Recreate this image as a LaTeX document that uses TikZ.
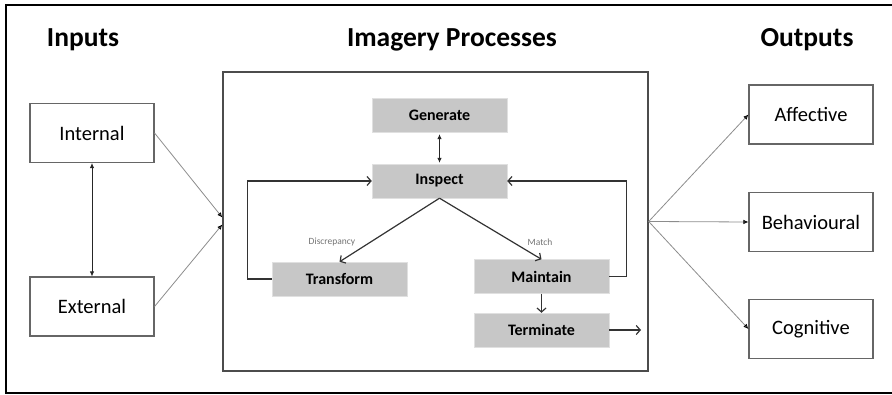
\documentclass[tikz,border=0pt]{standalone}
\usepackage{fontspec}
\setmainfont{Carlito}
\usetikzlibrary{arrows.meta}

\begin{document}
\begin{tikzpicture}
		[x=1pt,y=-1pt,
		title/.style ={font=\bfseries\fontsize{27.5}{30}\selectfont},
		io/.style ={rectangle, draw=black!60, line width=1.1pt, minimum width=124pt, minimum height=59pt, inner sep=0pt, font=\fontsize{20.5}{24}\selectfont},
		block/.style ={rectangle, fill=black!22, draw=black!12, minimum width=135pt, minimum height=34pt, inner sep=0pt, font=\bfseries\fontsize{16}{19}\selectfont},
		stage/.style ={rectangle, draw=black!70, line width=1.4pt, minimum width=425pt, minimum height=299pt, inner sep=0pt},
		note/.style ={text=black!55, font=\fontsize{9.5}{11}\selectfont},
		line/.style ={color=black!80, line width=1.2pt, -{Straight Barb[length=4pt,width=9pt]}},
		feed/.style ={color=black!45, line width=0.8pt, -{Latex[length=5pt,width=4.5pt,color=black]}},
		twoway/.style ={color=black!85, line width=0.8pt, {Latex[length=5pt,width=4.5pt]}-{Latex[length=5pt,width=4.5pt]}},
		]

		\useasboundingbox (0,0) rectangle (892,395);
		\draw[line width=2pt] (905,5) -- (6,5) -- (6,393) -- (905,393);

		\draw (83,40) node[title] (T1) {Inputs};
		\draw (452,40) node[title] (T2) {Imagery Processes};
		\draw (807,40) node[title] (T3) {Outputs};

		\draw (92,133) node[io] (IN) {Internal};
		\draw (92,306.5) node[io] (EX) {External};
		\draw (435.5,221.5) node[stage] (IP) {};
		\draw (811,114.5) node[io] (AF) {Affective};
		\draw (811,222) node[io] (BE) {Behavioural};
		\draw (811,329) node[io] (CO) {Cognitive};

		\draw (439.5,115) node[block] (GE) {Generate};
		\draw (439.5,181) node[block] (IS) {Inspect};
		\draw (339.5,279) node[block] (TR) {Transform};
		\draw (541.5,276.5) node[block] (MA) {Maintain};
		\draw (541.5,330) node[block] (TE) {Terminate};
		\draw (332,242) node[note] (D1) {Discrepancy};
		\draw (540,242) node[note] (M1) {Match};
		\coordinate (OUT) at (641,330);

		\path[twoway]
		(IN.south) edge (EX.north)
		([yshift=-2pt]GE.south) edge ([yshift=1pt]IS.north);

		\path[feed]
		(IN.east) edge ([yshift=4pt]IP.west)
		(EX.east) edge ([yshift=-3pt]IP.west)
		(IP.east) edge (AF.west)
		(IP.east) edge (BE.west)
		(IP.east) edge (CO.west);

		\path[line]
		(IS.south) edge (TR.north)
		(IS.south) edge (MA.north)
		(MA.south) edge (TE.north)
		(TE.east) edge (OUT);
		\draw[line] (TR.west) -- ++(-24,0) |- (IS.west);
		\draw[line] (MA.east) -- ++(17,0) |- (IS.east);

	\end{tikzpicture}
\end{document}
